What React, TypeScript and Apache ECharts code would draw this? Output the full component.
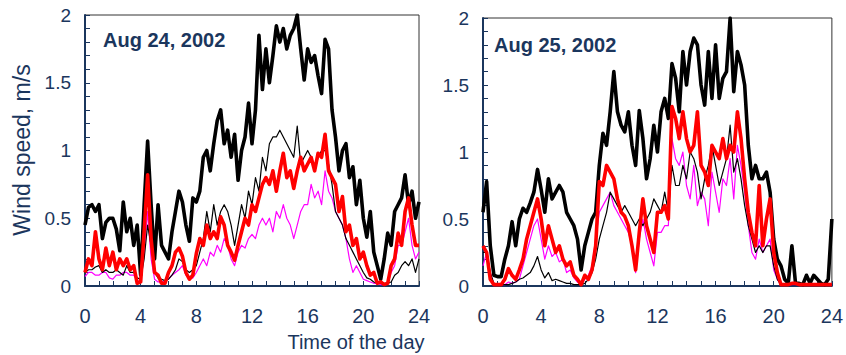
import React, { useEffect, useRef } from "react";
import * as echarts from "echarts";

// time of day, every 15 minutes
const hours: number[] = Array.from({ length: 97 }, (_, i) => i / 4);

const xTicks = [0, 4, 8, 12, 16, 20, 24];
const yTicks = [0, 0.5, 1, 1.5, 2];

// Aug 24, 2002
const aug24Thick = [
  0.45, 0.58, 0.6, 0.55, 0.6, 0.35, 0.47, 0.5, 0.5, 0.42, 0.26, 0.62, 0.4, 0.5, 0.3, 0.45,
  0.08, 0.6, 1.07, 0.6, 0.2, 0.6, 0.3, 0.25, 0.2, 0.4, 0.55, 0.7, 0.62, 0.45, 0.33, 0.65,
  0.62, 0.7, 0.95, 1.0, 0.85, 1.05, 1.22, 1.3, 1.05, 1.15, 0.95, 1.12, 0.78, 1.0, 1.1, 1.35,
  1.05, 1.3, 1.85, 1.45, 1.75, 1.5, 1.7, 1.92, 1.8, 1.9, 1.75, 1.85, 1.9, 2.0, 1.75, 1.52,
  1.75, 1.65, 1.7, 1.55, 1.42, 1.82, 1.75, 1.3, 1.1, 0.85, 1.0, 1.05, 0.8, 0.88, 0.6, 0.78,
  0.5, 0.36, 0.55, 0.25, 0.15, 0.05, 0.2, 0.39, 0.3, 0.55, 0.6, 0.65, 0.82, 0.6, 0.7, 0.5,
  0.62,
];
const aug24Red = [
  0.1, 0.2, 0.15, 0.4, 0.2, 0.12, 0.28, 0.15, 0.25, 0.12, 0.2, 0.15, 0.2, 0.12, 0.15, 0.02,
  0.03, 0.4, 0.82, 0.35, 0.1, 0.08, 0.02, 0.02, 0.1, 0.15, 0.25, 0.28, 0.22, 0.1, 0.05, 0.08,
  0.24, 0.35, 0.3, 0.45, 0.35, 0.4, 0.35, 0.51, 0.45, 0.3, 0.25, 0.19, 0.3, 0.4, 0.5, 0.45,
  0.6, 0.55, 0.65, 0.75, 0.8, 0.75, 0.85, 0.7, 0.85, 0.98, 0.8, 0.85, 0.72, 0.85, 0.95, 0.85,
  0.9, 0.95, 0.85, 0.98, 0.95, 1.12, 0.85, 0.8, 0.75, 0.55, 0.66, 0.4, 0.45, 0.3, 0.35, 0.2,
  0.25, 0.15, 0.08, 0.1, 0.02, 0.03, 0.01, 0.02, 0.15, 0.2, 0.39, 0.3, 0.55, 0.65, 0.45, 0.3,
  0.3,
];
const aug24Thin = [
  0.1, 0.12, 0.12, 0.14, 0.15, 0.1, 0.12, 0.1, 0.1, 0.12, 0.1, 0.08, 0.15, 0.1, 0.1, 0.06,
  0.05, 0.2, 0.45, 0.3, 0.1, 0.06, 0.05, 0.04, 0.05, 0.08, 0.12, 0.2, 0.18, 0.12, 0.1, 0.12,
  0.15, 0.25, 0.35, 0.55, 0.4, 0.6, 0.45, 0.55, 0.6, 0.55, 0.45, 0.3, 0.45, 0.6, 0.5, 0.7,
  0.6, 0.8, 0.7, 0.95, 0.85, 1.05, 1.1, 1.1, 1.15, 1.1, 1.05, 1.0, 0.95, 1.18, 0.9, 0.95,
  1.0, 0.95, 0.85, 0.95, 1.0, 1.0, 0.9, 0.75, 0.55, 0.5, 0.45, 0.35, 0.3, 0.25, 0.2, 0.15,
  0.1, 0.06, 0.05, 0.03, 0.02, 0.02, 0.02, 0.02, 0.03, 0.08, 0.1, 0.15, 0.18, 0.15, 0.2, 0.1,
  0.2,
];
const aug24Magenta = [
  0.07, 0.1, 0.1, 0.08, 0.08, 0.1, 0.1, 0.06, 0.05, 0.08, 0.08, 0.1, 0.1, 0.08, 0.08, 0.04,
  0.03, 0.25, 0.55, 0.2, 0.05, 0.03, 0.03, 0.04, 0.05, 0.08, 0.1, 0.12, 0.15, 0.08, 0.05, 0.06,
  0.1, 0.15, 0.2, 0.15, 0.25, 0.22, 0.3, 0.25, 0.35, 0.3, 0.2, 0.15, 0.25, 0.3, 0.28, 0.35,
  0.38, 0.35, 0.45, 0.5, 0.45, 0.5, 0.4, 0.55, 0.5, 0.6, 0.5, 0.45, 0.35, 0.45, 0.55, 0.6,
  0.6, 0.75, 0.65, 0.7, 0.6, 0.85, 0.7, 0.65, 0.55, 0.5, 0.45, 0.35, 0.2, 0.1, 0.15, 0.1,
  0.05, 0.04, 0.03, 0.02, 0.02, 0.01, 0.01, 0.02, 0.1, 0.15, 0.3, 0.3, 0.4, 0.5, 0.3, 0.2,
  0.25,
];

// Aug 25, 2002
const aug25Thick = [
  0.55, 0.78, 0.3, 0.08, 0.07, 0.07, 0.2, 0.3, 0.48, 0.3, 0.5, 0.58, 0.55, 0.62, 0.7, 0.87,
  0.72, 0.55, 0.8, 0.65, 0.7, 0.75, 0.7, 0.55, 0.5, 0.45, 0.35, 0.12, 0.3, 0.4, 0.5, 0.55,
  0.9, 1.14, 1.05, 1.3, 1.6, 1.3, 1.2, 1.15, 1.3, 1.05, 0.9, 1.31, 1.1, 0.8, 0.95, 1.2,
  1.0, 1.3, 1.4, 1.25, 1.66, 1.55, 1.3, 1.75, 1.5, 1.75, 1.85, 1.8, 1.5, 1.35, 1.75, 1.4,
  1.8, 1.4, 1.55, 1.6, 2.0, 1.45, 1.75, 1.65, 1.5, 1.05, 0.8, 0.9, 0.8, 0.8, 0.85, 0.7,
  0.35, 0.2, 0.15, 0.05, 0.02, 0.3, 0.02, 0.02, 0.01, 0.08, 0.02, 0.08, 0.05, 0.02, 0.01, 0.05,
  0.5,
];
const aug25Red = [
  0.3, 0.25, 0.05, 0.01, 0.01, 0.01, 0.05, 0.13, 0.08, 0.05, 0.12, 0.2, 0.35, 0.45, 0.55, 0.65,
  0.5, 0.3, 0.45, 0.35, 0.25, 0.3, 0.2, 0.15, 0.18, 0.08, 0.05, 0.01, 0.08, 0.05, 0.12, 0.3,
  0.78, 0.75, 0.9, 0.85, 0.8, 0.65, 0.55, 0.52, 0.45, 0.3, 0.12, 0.4, 0.65, 0.45, 0.35, 0.25,
  0.55, 0.55, 0.6, 0.5, 1.34, 1.25, 1.1, 1.3, 1.1, 1.0, 1.05, 1.3, 0.9, 0.85, 0.75, 1.05,
  1.0, 0.95, 1.1, 0.95, 1.05, 1.0, 1.3, 1.1, 0.8, 0.55, 0.4, 0.3, 0.75, 0.3, 0.5, 0.65,
  0.25, 0.1, 0.01, 0.01, 0.01, 0.02, 0.02, 0.01, 0.01, 0.01, 0.01, 0.01, 0.01, 0.01, 0.01, 0.01,
  0.01,
];
const aug25Thin = [
  0.25, 0.25, 0.1, 0.02, 0.01, 0.01, 0.01, 0.01, 0.02, 0.03, 0.05, 0.06, 0.08, 0.1, 0.15, 0.22,
  0.12, 0.06, 0.1, 0.04, 0.05, 0.04, 0.03, 0.02, 0.02, 0.01, 0.01, 0.01, 0.02, 0.05, 0.1, 0.2,
  0.35, 0.45, 0.55, 0.7, 0.65, 0.6, 0.55, 0.6, 0.55, 0.5, 0.45, 0.5, 0.45, 0.5, 0.55, 0.65,
  0.6, 0.55, 0.7, 0.55, 0.9, 0.75, 0.75, 0.9, 0.8, 1.0, 0.95, 0.85, 0.65, 0.8, 0.9, 1.05,
  0.9, 0.75, 0.85, 0.95, 1.2, 0.85, 0.95, 0.8, 0.6, 0.45, 0.35, 0.25, 0.3, 0.25, 0.3, 0.3,
  0.15, 0.05, 0.01, 0.01, 0.01, 0.01, 0.01, 0.01, 0.01, 0.01, 0.01, 0.01, 0.01, 0.01, 0.01, 0.01,
  0.01,
];
const aug25Magenta = [
  0.15, 0.25, 0.1, 0.01, 0.01, 0.01, 0.01, 0.03, 0.02, 0.03, 0.05, 0.15, 0.25, 0.35, 0.45, 0.5,
  0.35, 0.2, 0.3, 0.22, 0.25, 0.18, 0.2, 0.1, 0.12, 0.06, 0.03, 0.01, 0.05, 0.08, 0.15, 0.35,
  0.55, 0.6, 0.65, 0.7, 0.6, 0.55, 0.5, 0.45, 0.4, 0.3, 0.1, 0.35, 0.5, 0.35, 0.25, 0.15,
  0.4, 0.4, 0.45, 0.45, 1.1, 0.95, 0.9, 1.0, 0.75, 0.65, 0.9, 0.6, 0.7, 0.65, 0.45, 0.85,
  0.7, 0.55, 0.8, 0.75, 0.95, 0.65, 1.05, 0.9, 0.7, 0.45, 0.25, 0.2, 0.35, 0.25, 0.3, 0.35,
  0.12, 0.05, 0.01, 0.01, 0.01, 0.01, 0.01, 0.01, 0.01, 0.01, 0.01, 0.01, 0.01, 0.01, 0.01, 0.01,
  0.01,
];

const NAVY = "#1b365d";
const FONT = "Arial, 'Liberation Sans', sans-serif";

const pairs = (vals: number[]) => hours.map((h, i) => [h, vals[i]]);

function makeX(gridIndex: number) {
  return {
    type: "value",
    gridIndex,
    min: 0,
    max: 24,
    interval: 4,
    axisLine: { show: true, lineStyle: { color: NAVY, width: 2 } },
    axisTick: { show: true, inside: true, length: 5, lineStyle: { color: NAVY, width: 1 } },
    minorTick: { show: true, splitNumber: 4, length: 5, lineStyle: { color: NAVY, width: 1 } },
    splitLine: { show: false },
    minorSplitLine: { show: false },
    axisLabel: {
      color: NAVY,
      fontSize: 20,
      fontFamily: FONT,
      margin: 20,
      customValues: xTicks,
    },
  };
}

function makeY(gridIndex: number) {
  return {
    type: "value",
    gridIndex,
    min: 0,
    max: 2,
    interval: 0.5,
    axisLine: { show: true, lineStyle: { color: NAVY, width: 2 } },
    axisTick: { show: true, inside: true, length: 5, lineStyle: { color: NAVY, width: 1 } },
    minorTick: { show: true, splitNumber: 5, length: 5, lineStyle: { color: NAVY, width: 1 } },
    splitLine: { show: false },
    minorSplitLine: { show: false },
    axisLabel: {
      color: NAVY,
      fontSize: 19,
      fontFamily: FONT,
      margin: 14,
      formatter: (v: number) => (yTicks.includes(v) ? String(v) : ""),
    },
  };
}

function line(idx: number, vals: number[], color: string, width: number, z: number) {
  return {
    type: "line",
    xAxisIndex: idx,
    yAxisIndex: idx,
    data: pairs(vals),
    symbol: "none",
    showSymbol: false,
    lineStyle: { color, width, join: "round" },
    itemStyle: { color },
    z,
    silent: true,
  };
}

export default function App() {
  const ref = useRef<HTMLDivElement>(null);
  useEffect(() => {
    if (!ref.current) return;
    const chart = echarts.init(ref.current, null, { renderer: "svg" });
    chart.setOption({
      animation: false,
      backgroundColor: "#ffffff",
      grid: [
        { left: 85, top: 15, width: 334, height: 271, show: true, borderColor: "#333333", borderWidth: 1 },
        { left: 483, top: 18, width: 354, height: 268, show: true, borderColor: "#333333", borderWidth: 1 },
      ],
      xAxis: [makeX(0), makeX(1)],
      yAxis: [makeY(0), makeY(1)],
      series: [
        line(0, aug24Magenta, "#ff00ff", 1.2, 2),
        line(0, aug24Thin, "#000000", 1.2, 3),
        line(0, aug24Thick, "#000000", 3.6, 4),
        line(0, aug24Red, "#ff0000", 3.6, 5),
        line(1, aug25Magenta, "#ff00ff", 1.2, 2),
        line(1, aug25Thin, "#000000", 1.2, 3),
        line(1, aug25Thick, "#000000", 3.6, 4),
        line(1, aug25Red, "#ff0000", 3.6, 5),
      ],
      graphic: [
        {
          type: "text",
          x: 22,
          y: 150,
          rotation: Math.PI / 2,
          style: {
            text: "Wind speed, m/s",
            fill: NAVY,
            font: `23px ${FONT}`,
            textAlign: "center",
            textVerticalAlign: "middle",
          },
        },
        {
          type: "text",
          x: 356,
          y: 342,
          style: {
            text: "Time of the day",
            fill: NAVY,
            font: `20px ${FONT}`,
            textAlign: "center",
            textVerticalAlign: "middle",
          },
        },
        {
          type: "text",
          x: 103,
          y: 40,
          style: {
            text: "Aug 24, 2002",
            fill: NAVY,
            font: `bold 20px ${FONT}`,
            textAlign: "left",
            textVerticalAlign: "middle",
          },
        },
        {
          type: "text",
          x: 494,
          y: 45,
          style: {
            text: "Aug 25, 2002",
            fill: NAVY,
            font: `bold 20px ${FONT}`,
            textAlign: "left",
            textVerticalAlign: "middle",
          },
        },
      ],
    });
    return () => chart.dispose();
  }, []);
  return (
    <div
      ref={ref}
      style={{ position: "fixed", left: 0, top: 0, width: 846, height: 355, background: "#fff" }}
    />
  );
}
